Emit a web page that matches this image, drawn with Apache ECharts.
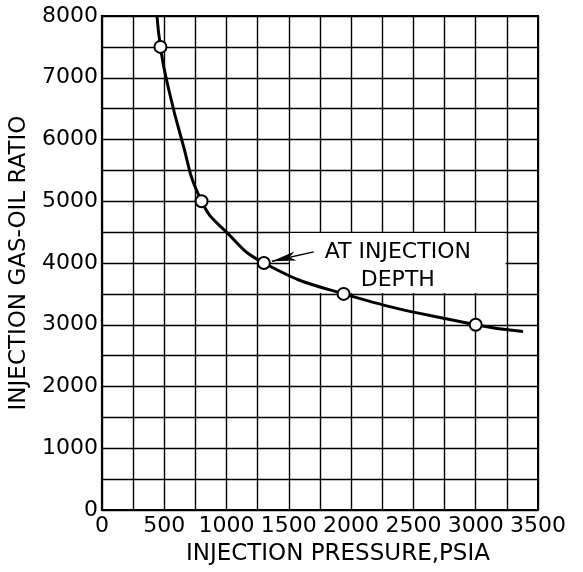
<!DOCTYPE html>
<html>
<head>
<meta charset="utf-8">
<script src="https://cdn.jsdelivr.net/npm/echarts@6/dist/echarts.min.js"></script>
<style>
html,body{margin:0;padding:0;background:#fff;}
#chart{width:583px;height:572px;}
</style>
</head>
<body>
<div id="chart"></div>
<script>
// Curve (injection pressure, psia -> injection gas-oil ratio)
const curvePressure = [442, 470, 515, 640, 800, 1000, 1300, 1940, 3000, 3380];
const curveGOR      = [8000, 7500, 7000, 6000, 5000, 4500, 4000, 3500, 3000, 2890];
// Plotted (circled) points
const pointPressure = [470, 800, 1300, 1940, 3000];
const pointGOR      = [7500, 5000, 4000, 3500, 3000];
// Annotation
const noteText = ['AT INJECTION', 'DEPTH'];
const noteBoxX = [1510, 3240];
const noteBoxY = [3515, 4485];
const arrowFrom = [1365, 4030];
const arrowTo   = [1700, 4180];
// Axes
const xMin = 0, xMax = 3500, xStep = 500;
const yMin = 0, yMax = 8000, yStep = 1000;
const xTitle = 'INJECTION PRESSURE,PSIA';
const yTitle = 'INJECTION GAS-OIL RATIO';

const font = 'DejaVu Sans';
const curveData = curvePressure.map((p, i) => [p, curveGOR[i]]);
const pointData = pointPressure.map((p, i) => [p, pointGOR[i]]);
const gridLine = {show: true, lineStyle: {color: '#000', width: 1.4, type: 'solid'}};
const plain = v => String(v);

const chart = echarts.init(document.getElementById('chart'), null, {renderer: 'canvas'});
chart.setOption({
  animation: false,
  backgroundColor: '#fff',
  grid: {left: 101, right: 45, top: 16, bottom: 62, show: true, borderColor: '#000', borderWidth: 2, containLabel: false},
  xAxis: {
    type: 'value', min: xMin, max: xMax, interval: xStep,
    name: xTitle, nameLocation: 'middle', nameGap: 33,
    nameTextStyle: {fontFamily: font, fontSize: 23, color: '#000', padding: [0, 0, 0, 36]},
    axisLine: {show: true, lineStyle: {color: '#000', width: 2}},
    axisTick: {show: false},
    axisLabel: {fontFamily: font, fontSize: 22, color: '#000', margin: 5, formatter: plain},
    splitLine: gridLine,
    minorTick: {show: false, splitNumber: 2},
    minorSplitLine: gridLine
  },
  yAxis: {
    type: 'value', min: yMin, max: yMax, interval: yStep,
    name: yTitle, nameLocation: 'middle', nameGap: 67,
    nameTextStyle: {fontFamily: font, fontSize: 23, color: '#000'},
    axisLine: {show: true, lineStyle: {color: '#000', width: 2}},
    axisTick: {show: false},
    axisLabel: {fontFamily: font, fontSize: 22, color: '#000', margin: 4, formatter: plain},
    splitLine: gridLine,
    minorTick: {show: false, splitNumber: 2},
    minorSplitLine: gridLine
  },
  series: [
    {
      type: 'line', data: [], z: 1, silent: true,
      markArea: {
        silent: true,
        itemStyle: {color: '#fff', borderWidth: 0},
        label: {show: true, position: 'inside', formatter: noteText.join('\n'),
                fontFamily: font, fontSize: 22, color: '#000', lineHeight: 28, offset: [0, 3]},
        data: [[{coord: [noteBoxX[0], noteBoxY[0]]}, {coord: [noteBoxX[1], noteBoxY[1]]}]]
      }
    },
    {
      type: 'line', data: curveData, z: 3, smooth: 0.5,
      symbol: 'none', lineStyle: {color: '#000', width: 3}, silent: true,
      markLine: {
        silent: true, symbol: ['arrow', 'none'], symbolSize: [7, 24],
        lineStyle: {color: '#000', width: 1.5, type: 'solid'},
        label: {show: false},
        data: [[{coord: arrowFrom}, {coord: arrowTo}]]
      }
    },
    {
      type: 'scatter', data: pointData, z: 4, symbol: 'circle', symbolSize: 12,
      itemStyle: {color: '#fff', borderColor: '#000', borderWidth: 2, opacity: 1}, silent: true
    }
  ]
});
</script>
</body>
</html>
